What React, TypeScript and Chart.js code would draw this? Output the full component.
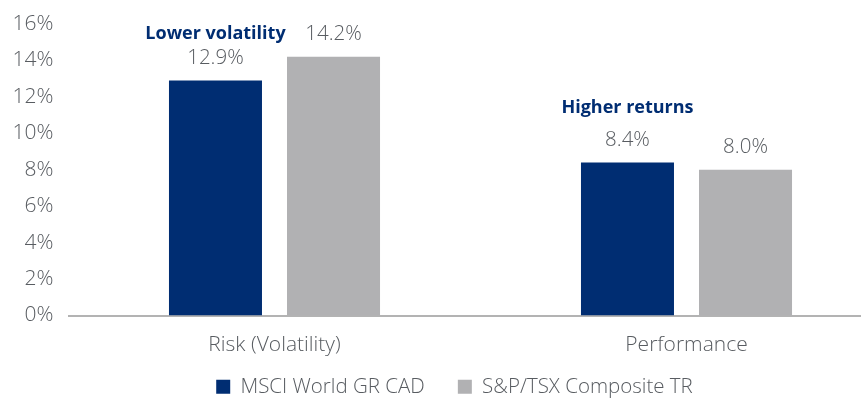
import React, { useEffect, useRef } from "react";
import { Chart, registerables } from "chart.js";

Chart.register(...registerables);

const categories = ["Risk (Volatility)", "Performance"];
const seriesNames = ["MSCI World GR CAD", "S&P/TSX Composite TR"];
const msciValues = [12.9, 8.4];
const tsxValues = [14.2, 8.0];
const callouts = ["Lower volatility", "Higher returns"];
const yTicks = [0, 2, 4, 6, 8, 10, 12, 14, 16];

const NAVY = "#002d72";
const GRAY = "#b1b1b3";
const TEXT = "#585c61";
const FONT = "'Open Sans', 'DejaVu Sans', sans-serif";
const CALLOUT_GAP = [38, 46];
const LEGEND_SHIFT = 20;

const labelPlugin = {
  id: "barLabels",
  afterLayout(chart: any) {
    if (chart.legend) {
      chart.legend.top -= LEGEND_SHIFT;
      chart.legend.bottom -= LEGEND_SHIFT;
    }
  },
  afterDatasetsDraw(chart: any) {
    const ctx = chart.ctx;
    ctx.save();
    chart.data.datasets.forEach((ds: any, di: number) => {
      const meta = chart.getDatasetMeta(di);
      meta.data.forEach((bar: any, i: number) => {
        const v = ds.data[i];
        ctx.font = `300 20.5px ${FONT}`;
        ctx.fillStyle = TEXT;
        ctx.textAlign = "center";
        ctx.textBaseline = "bottom";
        ctx.fillText(v.toFixed(1) + "%", bar.x, bar.y - 12);
        if (di === 0) {
          ctx.font = `bold 18px ${FONT}`;
          ctx.fillStyle = NAVY;
          ctx.fillText(callouts[i], bar.x, bar.y - CALLOUT_GAP[i]);
        }
      });
    });
    ctx.restore();
  },
};

export default function App() {
  const ref = useRef<HTMLCanvasElement>(null);
  useEffect(() => {
    if (!ref.current) return;
    const chart = new Chart(ref.current, {
      type: "bar",
      data: {
        labels: categories,
        datasets: [
          { label: seriesNames[0], data: msciValues, backgroundColor: NAVY },
          { label: seriesNames[1], data: tsxValues, backgroundColor: GRAY },
        ],
      },
      plugins: [labelPlugin],
      options: {
        animation: false,
        responsive: false,
        maintainAspectRatio: false,
        devicePixelRatio: 1,
        datasets: {
          bar: { categoryPercentage: 0.573, barPercentage: 0.788 },
        },
        layout: { padding: { top: 24, bottom: -27, left: 0, right: 0 } },
        plugins: {
          tooltip: { enabled: false },
          legend: {
            position: "bottom",
            labels: {
              boxWidth: 14,
              boxHeight: 14,
              padding: 33,
              color: TEXT,
              font: { family: FONT, size: 20.5, weight: "300" },
            },
          },
        },
        scales: {
          x: {
            grid: { display: false, drawTicks: false },
            border: { display: true, color: "#b3b3b3", width: 2 },
            ticks: {
              color: TEXT,
              padding: 17,
              font: { family: FONT, size: 21, weight: "300" },
            },
            afterFit: (s: any) => {
              s.height = 48;
              s.paddingLeft = 0;
              s.paddingRight = 0;
            },
          },
          y: {
            min: 0,
            max: 16,
            afterBuildTicks: (s: any) => {
              s.ticks = yTicks.map((v) => ({ value: v }));
            },
            grid: { display: false, drawTicks: false },
            border: { display: false },
            ticks: {
              color: TEXT,
              padding: 15,
              font: { family: FONT, size: 21, weight: "300" },
              callback: (v: any) => v + "%",
            },
            afterFit: (s: any) => {
              s.width = 68.5;
              s.paddingTop = 0;
              s.paddingBottom = 0;
            },
          },
          yRight: {
            position: "right",
            display: true,
            grid: { display: false, drawTicks: false },
            border: { display: false },
            ticks: { display: false },
            afterFit: (s: any) => {
              s.width = 16.5;
              s.paddingTop = 0;
              s.paddingBottom = 0;
            },
          },
        },
      } as any,
    });
    return () => chart.destroy();
  }, []);
  return (
    <div
      style={{
        position: "fixed",
        left: 0,
        top: 0,
        width: 861,
        height: 400,
        overflow: "hidden",
        background: "#fff",
      }}
    >
      <canvas ref={ref} width={909} height={400} style={{ width: 909, height: 400 }} />
    </div>
  );
}
